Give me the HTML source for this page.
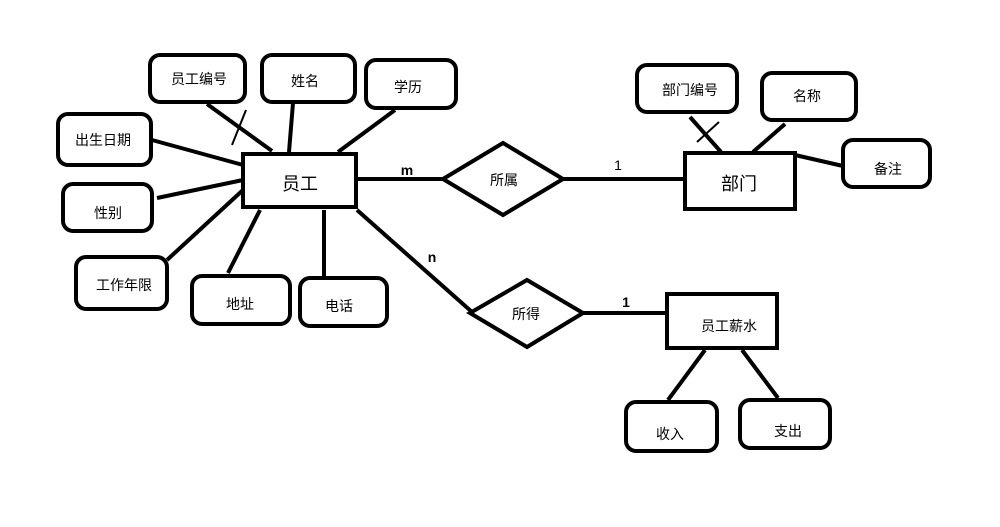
<!DOCTYPE html>
<html><head><meta charset="utf-8"><style>
html,body{margin:0;padding:0;background:#fff;width:1000px;height:527px;overflow:hidden}
text{font-family:"Liberation Sans","Noto Sans CJK SC",sans-serif;fill:#000}
</style></head><body>
<svg width="1000" height="527" viewBox="0 0 1000 527" xmlns="http://www.w3.org/2000/svg">
<g stroke="#000" stroke-width="4" fill="none" stroke-linecap="butt">
<!-- lines -->
<line x1="207" y1="104" x2="272" y2="151"/>
<line x1="246" y1="110" x2="232" y2="145" stroke-width="2"/>
<line x1="293" y1="103" x2="289" y2="152"/>
<line x1="395" y1="110" x2="338" y2="152"/>
<line x1="152" y1="140" x2="243" y2="165"/>
<line x1="157" y1="198" x2="243" y2="180"/>
<line x1="167" y1="260" x2="243" y2="190"/>
<line x1="228" y1="273" x2="260" y2="210"/>
<line x1="324" y1="276" x2="324" y2="210"/>
<line x1="357" y1="210" x2="472" y2="312"/>
<line x1="357" y1="179" x2="443" y2="179"/>
<line x1="563" y1="179" x2="685" y2="179"/>
<line x1="690" y1="117" x2="721" y2="152"/>
<line x1="697" y1="142" x2="719" y2="122" stroke-width="2"/>
<line x1="785" y1="124" x2="753" y2="152"/>
<line x1="795" y1="155" x2="843" y2="166"/>
<line x1="583" y1="313" x2="667" y2="313"/>
<line x1="705" y1="350" x2="668" y2="400"/>
<line x1="742" y1="350" x2="778" y2="398"/>
<!-- entities -->
<rect x="243" y="154" width="113" height="53"/>
<rect x="685" y="153" width="110" height="56"/>
<rect x="667" y="294" width="110" height="54"/>
<!-- diamonds -->
<polygon points="443,179 503,143 563,179 503,215" fill="#fff"/>
<polygon points="470,313 527,280 583,313 527,347" fill="#fff"/>
<!-- attributes -->
<rect x="150" y="55" width="95" height="47" rx="10"/>
<rect x="262" y="55" width="93" height="47" rx="10"/>
<rect x="366" y="60" width="90" height="48" rx="10"/>
<rect x="58" y="114" width="93" height="51" rx="10"/>
<rect x="63" y="184" width="89" height="47" rx="10"/>
<rect x="76" y="257" width="91" height="52" rx="10"/>
<rect x="192" y="276" width="98" height="48" rx="10"/>
<rect x="300" y="278" width="87" height="48" rx="10"/>
<rect x="637" y="65" width="100" height="47" rx="10"/>
<rect x="762" y="73" width="94" height="47" rx="10"/>
<rect x="843" y="140" width="87" height="47" rx="10"/>
<rect x="626" y="402" width="91" height="49" rx="10"/>
<rect x="740" y="400" width="90" height="48" rx="10"/>
</g>
<g font-size="14" text-anchor="middle">
<text x="199" y="84">员工编号</text>
<text x="305" y="86">姓名</text>
<text x="408" y="92">学历</text>
<text x="103" y="145">出生日期</text>
<text x="108" y="218">性别</text>
<text x="124" y="290">工作年限</text>
<text x="240" y="309">地址</text>
<text x="339" y="311">电话</text>
<text x="504" y="185">所属</text>
<text x="526" y="319">所得</text>
<text x="690" y="95">部门编号</text>
<text x="807" y="101">名称</text>
<text x="888" y="174">备注</text>
<text x="670" y="439">收入</text>
<text x="788" y="436">支出</text>
<text x="729" y="331">员工薪水</text>
<text x="300" y="190" font-size="18">员工</text>
<text x="739" y="190" font-size="18">部门</text>
<text x="407" y="175" font-weight="bold">m</text>
<text x="432" y="262" font-weight="bold">n</text>
<text x="618" y="170">1</text>
<text x="626" y="307" font-weight="bold">1</text>
</g>
</svg>
</body></html>
